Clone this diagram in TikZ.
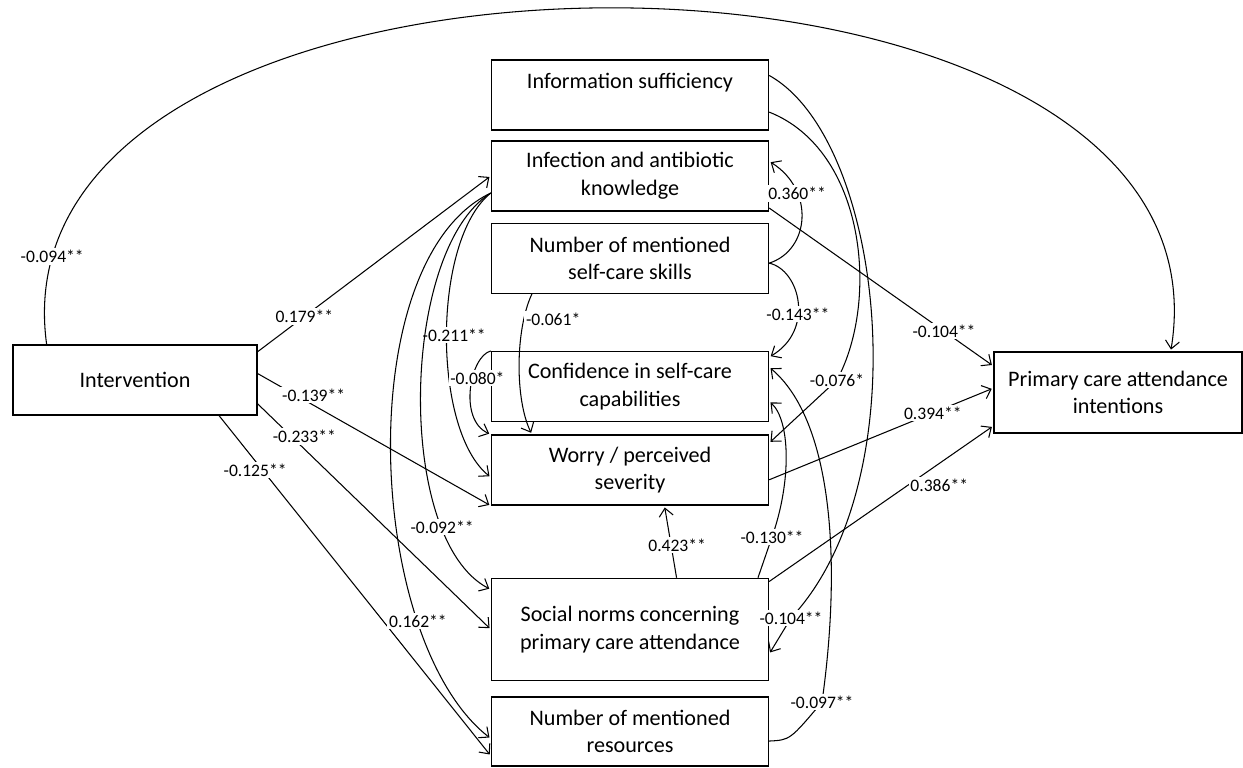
\documentclass[tikz,border=0pt]{standalone}
\usepackage{fontspec}
\setmainfont{Carlito}
\usetikzlibrary{arrows.meta,positioning}

\tikzset{
  box/.style={draw,line width=0.8pt,minimum width=5.54cm,minimum height=1.4cm,
    inner sep=2pt,align=center,font=\fontsize{12.6}{15.6}\selectfont},
  lbl/.style={fill=white,inner sep=1pt,font=\fontsize{10}{12}\selectfont}
}

\begin{document}
\begin{tikzpicture}[->,>={Straight Barb[length=4.5pt,width=8pt]},shorten >=1pt,
        line width=0.6pt,x=0.02cm,y=-0.02cm]
  \useasboundingbox (0,0) rectangle (1243,767);
  \node[box] (info) at (630,95) {Information sufficiency\\~};
  \node[box] (know) [below=0.19cm of info] {Infection and antibiotic\\knowledge};
  \node[box] (skill) [below=0.22cm of know] {Number of mentioned\\self-care skills};
  \node[box] (conf) [below=1.14cm of skill] {Confidence in self-care\\capabilities};
  \node[box] (worry) [below=0.24cm of conf] {Worry / perceived\\severity};
  \node[box,minimum height=2.04cm] (norm) [below=1.44cm of worry] {Social norms concerning\\primary care attendance};
  \node[box,minimum height=1.38cm] (res) [below=0.3cm of norm] {Number of mentioned\\resources};
  \node[box,minimum width=4.88cm] (intv) at (135,380) {Intervention};
  \node[box,minimum width=4.96cm,minimum height=1.62cm] (prim) at (1118,392.5) {Primary care attendance\\intentions};

  \draw (intv.158) .. controls (-15,-105) and (1245,-105) .. node[lbl,pos=0.07] {-0.094**} (prim.38);
  \path (intv.13) edge node[lbl,pos=0.2] {0.179**} (know.west)
        (intv.3) edge node[lbl,pos=0.24,yshift=0.2cm] {-0.139**} (worry.south west)
        (intv.-11) edge node[lbl,pos=0.2,yshift=0.25cm] {-0.233**} (norm.west)
        (intv.-23) edge node[lbl,pos=0.16,xshift=-0.15cm] {-0.125**} (res.190);

  \draw (know.187) .. controls (432,240) and (432,430) .. node[lbl,pos=0.5,xshift=0.15cm] {-0.211**} (worry.183);
  \draw (know.187) .. controls (400,250) and (395,540) .. node[lbl,pos=0.78] {-0.092**} (norm.164);
  \draw (know.187) .. controls (350,260) and (365,640) .. node[lbl,pos=0.75] {0.162**} (res.183);
  \draw (conf.north west) .. controls (470,356) and (458,420) .. node[lbl,pos=0.4,xshift=0.1cm] {-0.080*} (worry.north west);
  \draw (skill.-160) .. controls (515,330) and (515,400) .. node[lbl,pos=0.2,anchor=west] {-0.061*} (worry.160);

  \draw (skill.-2) .. controls (810,250) and (815,190) .. node[lbl,pos=0.7] {0.360**} (know.6);
  \draw (skill.-2) .. controls (800,270) and (815,330) .. node[lbl,pos=0.6] {-0.143**} (conf.12);
  \draw (info.-7) .. controls (865,150) and (880,300) .. (837,380) node[lbl] {-0.076*} -- (worry.11);
  \draw (info.8) .. controls (885,140) and (920,480) .. (791,618) node[lbl] {-0.104**} -- (norm.-10);
  \draw (res.-4) .. controls (790,740) .. (822,702) node[lbl] {-0.097**} .. controls (842,560) and (832,420) .. (conf.8);
  \draw (norm.22) -- (772,537) node[lbl] {-0.130**} .. controls (792,480) and (790,420) .. (conf.-6);
  \path (norm.48) edge node[lbl,pos=0.45,xshift=0.12cm] {0.423**} (worry.-46)
        (know.-13) edge node[lbl,pos=0.78] {-0.104**} (prim.168)
        (worry.-4) edge node[lbl,pos=0.73] {0.394**} (prim.178)
        (norm.19) edge node[lbl,pos=0.62,anchor=west] {0.386**} (prim.195);
\end{tikzpicture}
\end{document}
